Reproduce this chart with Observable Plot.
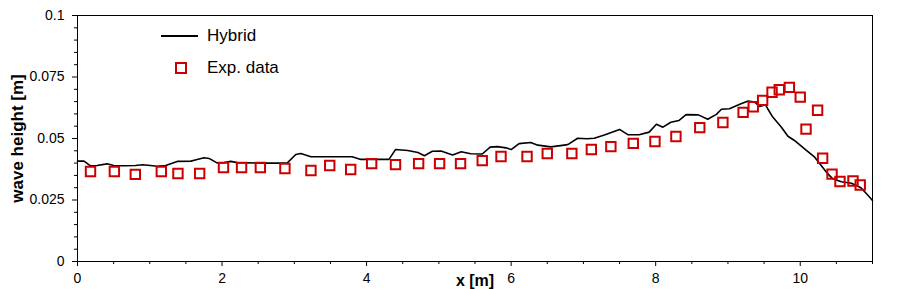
<!DOCTYPE html>
<html>
<head>
<meta charset="utf-8">
<script src="https://cdn.jsdelivr.net/npm/d3@7"></script>
<script src="https://cdn.jsdelivr.net/npm/@observablehq/plot@0.6"></script>
<style>
  html, body { margin: 0; padding: 0; background: #fff; }
  #chart { position: relative; width: 898px; height: 289px; font-family: "Liberation Sans", Arial, sans-serif; }
  #chart svg { display: block; }
  .legend { position: absolute; left: 155px; top: 20px; font-size: 17px; color: #000; }
  .legend .row { display: flex; align-items: center; height: 32px; }
  .legend .sw { width: 52px; height: 20px; }
</style>
</head>
<body>
<div id="chart"></div>
<script>
// Hybrid (line) series
const hybridX = [0.00,0.09,0.18,0.27,0.41,0.50,0.64,0.80,0.90,1.01,1.10,1.22,1.38,1.57,1.63,1.75,1.82,1.93,2.03,2.12,2.21,2.53,2.90,3.02,3.09,3.23,3.41,3.80,3.92,4.01,4.31,4.40,4.57,4.71,4.80,4.91,5.03,5.19,5.31,5.44,5.60,5.71,5.81,5.93,6.00,6.11,6.27,6.37,6.55,6.76,6.80,6.92,7.05,7.15,7.29,7.50,7.62,7.77,7.91,8.01,8.10,8.21,8.32,8.42,8.59,8.72,8.84,8.91,9.02,9.18,9.28,9.37,9.44,9.52,9.55,9.62,9.74,9.83,9.92,10.06,10.20,10.29,10.38,10.45,10.57,10.71,10.84,10.94,11.00];
const hybridY = [0.0408,0.0408,0.0389,0.0390,0.0397,0.0390,0.0389,0.0390,0.0393,0.0390,0.0387,0.0390,0.0407,0.0408,0.0413,0.0422,0.0419,0.0401,0.0402,0.0407,0.0402,0.0400,0.0400,0.0435,0.0439,0.0426,0.0426,0.0426,0.0415,0.0415,0.0415,0.0455,0.0451,0.0443,0.0430,0.0448,0.0449,0.0433,0.0446,0.0438,0.0437,0.0465,0.0467,0.0462,0.0455,0.0479,0.0484,0.0473,0.0466,0.0474,0.0478,0.0501,0.0499,0.0501,0.0514,0.0537,0.0515,0.0515,0.0526,0.0558,0.0546,0.0566,0.0573,0.0597,0.0596,0.0578,0.0598,0.0619,0.0621,0.0641,0.0652,0.0648,0.0630,0.0637,0.0621,0.0587,0.0546,0.0509,0.0492,0.0458,0.0424,0.0390,0.0357,0.0336,0.0324,0.0318,0.0300,0.0268,0.0248];

// Experimental data (squares)
const expX = [0.18,0.51,0.80,1.16,1.39,1.69,2.02,2.27,2.53,2.87,3.23,3.49,3.78,4.07,4.40,4.72,5.01,5.30,5.60,5.86,6.22,6.50,6.84,7.11,7.38,7.69,7.99,8.28,8.61,8.93,9.21,9.35,9.48,9.61,9.71,9.85,10.00,10.08,10.24,10.31,10.44,10.55,10.73,10.83];
const expY = [0.0366,0.0366,0.0354,0.0366,0.0358,0.0358,0.0382,0.0382,0.0382,0.0378,0.0370,0.0390,0.0374,0.0398,0.0394,0.0398,0.0398,0.0398,0.0410,0.0427,0.0427,0.0439,0.0439,0.0455,0.0467,0.0480,0.0488,0.0508,0.0544,0.0565,0.0606,0.0629,0.0655,0.0688,0.0698,0.0708,0.0668,0.0538,0.0615,0.0420,0.0355,0.0325,0.0327,0.0311];

// Axis ticks
const xMajor = [0, 2, 4, 6, 8, 10];
const xMinor = [0.5,1,1.5,2.5,3,3.5,4.5,5,5.5,6.5,7,7.5,8.5,9,9.5,10.5,11];
const yMajor = [0, 0.025, 0.05, 0.075, 0.1];
const yMinor = [0.005,0.01,0.015,0.02,0.03,0.035,0.04,0.045,0.055,0.06,0.065,0.07,0.08,0.085,0.09,0.095];

const xTitle = "x [m]";
const yTitle = "wave height [m]";
const seriesNames = ["Hybrid", "Exp. data"];
const red = "#cc0000";

const hybrid = hybridX.map((x, i) => ({x, y: hybridY[i]}));
const exp = expX.map((x, i) => ({x, y: expY[i]}));

const plot = Plot.plot({
  width: 898,
  height: 289,
  marginLeft: 77,
  marginRight: 26,
  marginTop: 15,
  marginBottom: 28,
  style: { fontFamily: '"Liberation Sans", Arial, sans-serif', fontSize: "14px", background: "#fff", color: "#000" },
  x: { domain: [0, 11] },
  y: { domain: [0, 0.1] },
  marks: [
    Plot.axisX({ ticks: xMajor, tickSize: 5, tickPadding: 7, tickFormat: d => String(d), label: null, fontSize: 14 }),
    Plot.axisX({ ticks: xMinor, tickSize: 3, tickFormat: () => "", label: null }),
    Plot.axisY({ ticks: yMajor, tickSize: 5, tickPadding: 8, tickFormat: d => String(d), label: null, fontSize: 14 }),
    Plot.axisY({ ticks: yMinor, tickSize: 3, tickFormat: () => "", label: null }),
    Plot.text([xTitle], { frameAnchor: "bottom", dy: 19, lineAnchor: "middle", textAnchor: "middle", text: d => d, fontWeight: "bold", fontSize: 16 }),
    Plot.text([yTitle], { frameAnchor: "left", dx: -60, rotate: -90, lineAnchor: "middle", textAnchor: "middle", text: d => d, fontWeight: "bold", fontSize: 17 }),
    Plot.frame({ stroke: "#000", strokeWidth: 1 }),
    Plot.line(hybrid, { x: "x", y: "y", stroke: "#000", strokeWidth: 1.6 }),
    Plot.dot(exp, { x: "x", y: "y", symbol: "square", r: 5.3, stroke: red, strokeWidth: 2, fill: "none" })
  ]
});

const chart = document.getElementById("chart");
chart.appendChild(plot);

// Legend (inside plot area, as in the reference)
const legend = document.createElement("div");
legend.className = "legend";
legend.innerHTML = `
  <div class="row"><svg class="sw" width="52" height="20"><line x1="6" x2="43" y1="10" y2="10" stroke="#000" stroke-width="2"/></svg><span>${seriesNames[0]}</span></div>
  <div class="row"><svg class="sw" width="52" height="20"><rect x="21" y="5" width="10" height="10" fill="none" stroke="${red}" stroke-width="2"/></svg><span>${seriesNames[1]}</span></div>`;
chart.appendChild(legend);
</script>
</body>
</html>
